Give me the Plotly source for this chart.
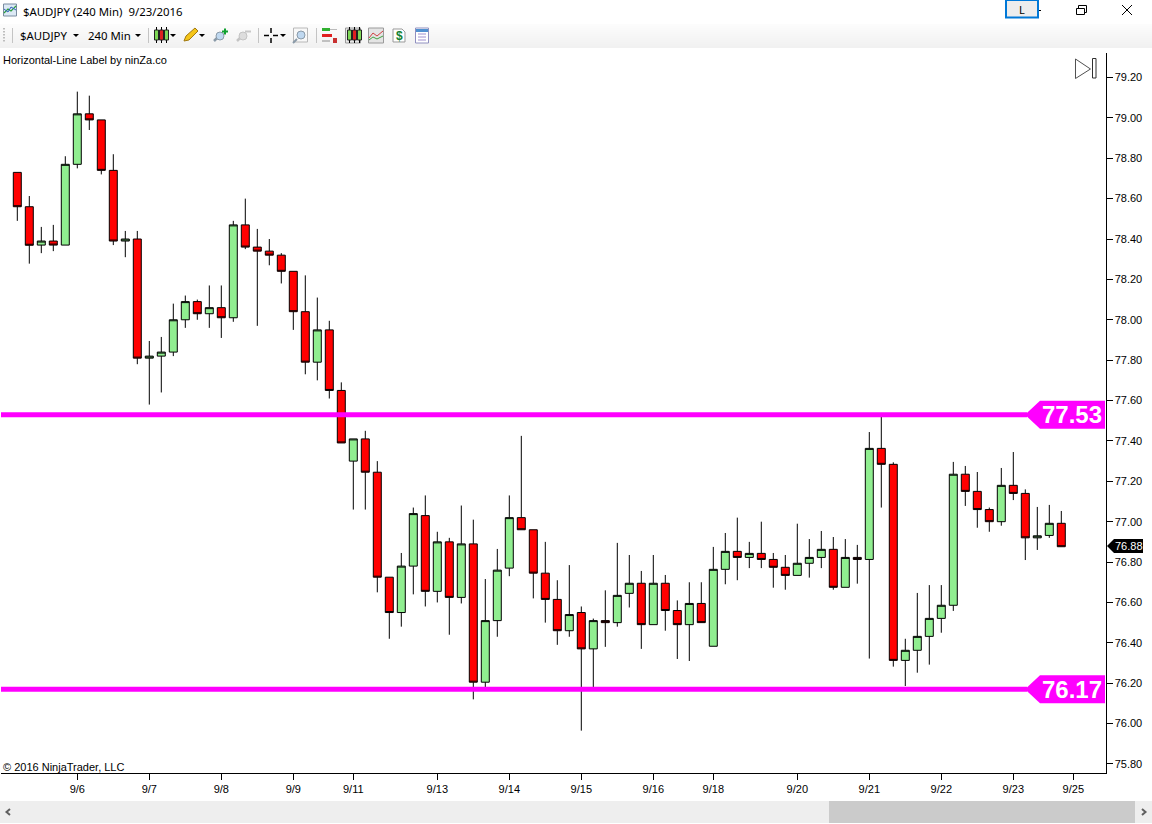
import plotly.graph_objects as go

W, H = 1152, 824

# ---- data ----
opens = [78.73,78.56,78.37,78.39,78.37,78.77,79.02,78.99,78.74,78.39,78.40,77.81,77.82,77.84,78.00,78.09,78.03,78.06,78.01,78.47,
         78.36,78.34,78.32,78.24,78.04,77.79,77.95,77.65,77.30,77.41,77.245,76.725,76.55,76.78,77.03,76.655,76.90,76.625,76.89,76.205,
         76.51,76.77,77.02,76.96,76.745,76.615,76.46,76.55,76.37,76.51,76.50,76.645,76.695,76.49,76.695,76.56,76.49,76.595,76.383,76.764,
         76.853,76.823,76.843,76.813,76.774,76.734,76.794,76.823,76.863,76.675,76.823,76.813,77.363,77.284,76.313,76.363,76.432,76.521,76.586,77.235,
         77.15,77.06,77.00,77.18,77.14,76.92,76.932,76.992]
highs = [78.73,78.613,78.46,78.47,78.81,79.13,79.11,78.99,78.82,78.44,78.44,77.895,77.915,78.08,78.12,78.10,78.17,78.17,78.49,78.60,
         78.45,78.40,78.33,78.24,78.22,78.11,77.995,77.69,77.41,77.45,77.30,76.725,76.845,77.07,77.13,76.95,76.92,77.08,77.01,76.716,
         76.865,77.13,77.425,76.96,76.90,76.71,76.785,76.58,76.52,76.66,76.895,76.835,76.756,76.835,76.736,76.61,76.70,76.70,76.875,76.944,
         77.02,76.90,77.00,76.845,76.835,76.99,76.914,76.954,76.924,76.914,76.885,77.444,77.52,77.294,76.42,76.647,76.686,76.686,77.296,77.276,
         77.246,77.07,77.266,77.345,77.16,77.073,77.083,77.053]
lows = [78.49,78.278,78.33,78.34,78.37,78.75,78.94,78.72,78.37,78.31,77.78,77.58,77.64,77.82,77.96,78.00,77.96,77.91,77.99,78.35,
        77.97,78.27,78.18,77.95,77.73,77.70,77.61,77.39,77.06,77.06,76.65,76.42,76.48,76.64,76.58,76.60,76.44,76.595,76.12,76.18,
        76.43,76.73,76.96,76.62,76.50,76.39,76.43,75.965,76.18,76.38,76.48,76.575,76.37,76.49,76.46,76.32,76.31,76.50,76.383,76.69,
        76.71,76.77,76.77,76.673,76.663,76.734,76.723,76.77,76.663,76.675,76.693,76.322,77.07,76.282,76.186,76.252,76.292,76.45,76.558,77.078,
        76.97,76.95,76.98,77.107,76.81,76.86,76.92,76.876]
closes = [78.56,78.369,78.39,78.37,78.77,79.02,78.99,78.74,78.39,78.40,77.81,77.82,77.84,78.00,78.09,78.03,78.06,78.01,78.47,78.36,
          78.34,78.32,78.24,78.04,77.79,77.95,77.65,77.39,77.41,77.245,76.725,76.55,76.78,77.04,76.655,76.90,76.625,76.89,76.205,76.51,
          76.76,77.02,76.96,76.745,76.615,76.46,76.54,76.37,76.51,76.50,76.635,76.695,76.49,76.695,76.56,76.49,76.595,76.50,76.764,76.853,
          76.823,76.843,76.813,76.774,76.734,76.794,76.823,76.863,76.675,76.823,76.813,77.363,77.284,76.313,76.363,76.432,76.521,76.586,77.235,77.15,
          77.06,77.00,77.18,77.14,76.92,76.93,76.992,76.876]
bar_index = list(range(len(closes)))

date_tick_index = [5, 11, 17, 23, 28, 35, 41, 47, 53, 58, 65, 71, 77, 83, 88]
date_tick_labels = ["9/6","9/7","9/8","9/9","9/11","9/13","9/14","9/15","9/16","9/18","9/20","9/21","9/22","9/23","9/25"]
price_ticks = [75.8,76.0,76.2,76.4,76.6,76.8,77.0,77.2,77.4,77.6,77.8,78.0,78.2,78.4,78.6,78.8,79.0,79.2]
levels = [77.53, 76.17]
last_price = 76.88

# ---- layout helpers (pixel -> paper) ----
PL, PR, PT, PB = 1.0, 1105.5, 53.0, 773.0
MAG = "#FF00FF"
FONT = "Liberation Sans"
UI = "Noto Sans"

def fx(x): return x / W
def fy(y): return 1 - y / H
def vpx(v): return 77.5 + (79.20 - v) * 201.9

shapes, notes = [], []

def rect(x0, y0, x1, y1, fill="rgba(0,0,0,0)", line=None, lw=1):
    shapes.append(dict(type="rect", xref="paper", yref="paper", x0=fx(x0), x1=fx(x1), y0=fy(y1), y1=fy(y0),
                       fillcolor=fill, line=dict(color=line or "rgba(0,0,0,0)", width=lw if line else 0), layer="above"))

def poly(pts, fill="rgba(0,0,0,0)", line=None, lw=1, close=True):
    d = "M" + " L".join(f"{fx(x):.5f},{fy(y):.5f}" for x, y in pts) + (" Z" if close else "")
    shapes.append(dict(type="path", xref="paper", yref="paper", path=d, fillcolor=fill,
                       line=dict(color=line or "rgba(0,0,0,0)", width=lw if line else 0), layer="above"))

def seg(x0, y0, x1, y1, color="#000", lw=1):
    shapes.append(dict(type="line", xref="paper", yref="paper", x0=fx(x0), x1=fx(x1), y0=fy(y0), y1=fy(y1),
                       line=dict(color=color, width=lw), layer="above"))

def text(x, y, s, size=11, color="#000", anchor="left", family=FONT, bold=False):
    notes.append(dict(xref="paper", yref="paper", x=fx(x), y=fy(y), text=f"<b>{s}</b>" if bold else s,
                      showarrow=False, xanchor=anchor, yanchor="middle", xshift=0, yshift=0,
                      font=dict(size=size, color=color, family=family)))

# toolbar band
for i in range(12):
    g = 252 - i
    rect(0, 24 + i * 2, W, 26 + i * 2, fill=f"rgb({g},{g},{g})")

# window icon + title
rect(3.5, 4, 16.5, 16, fill="#DCE9F5", line="#7A8CA0")
poly([(4, 13), (8, 9), (11, 11), (16, 6)], line="#2E9E3E", lw=1.2, close=False)
poly([(4, 9), (8, 12), (11, 7), (16, 10)], line="#3060C0", lw=1, close=False)
text(21, 11.5, "$AUDJPY (240 Min)  9/23/2016", size=11.4, family=UI)

# toolbar items
for yy in (28, 31, 34, 37, 40):
    rect(3, yy, 5, yy + 1.5, fill="#BDBDBD")
for sx in (12.5, 148.5, 258.5, 316.5):
    seg(sx, 28, sx, 43, "#C4C4C4")
text(18, 35, "$AUDJPY", size=11.4, family=UI)
text(86, 35, "240 Min", size=11.4, family=UI)
for tx in (76, 138, 173, 202, 283):
    poly([(tx - 3, 34), (tx + 3, 34), (tx, 37)], fill="#000")

def mini_candles(x, colors):
    for k, c in enumerate(colors):
        seg(x + 2 + k * 5, 27, x + 2 + k * 5, 43, "#000")
        rect(x + k * 5, 30, x + 4 + k * 5, 40, fill=c, line="#222")

mini_candles(154.5, ["#7ED957", "#E02020", "#7ED957"])
poly([(184, 41), (186, 36), (195, 28), (198, 31), (189, 40)], fill="#F5C518", line="#A07810")
for cx, col, rim in ((218, "#BFD8F0", "#8A9AA8"), (241, "#DDDDDD", "#C4C4C4")):
    seg(cx - 4, 41, cx - 1, 38, rim, 2.5)
    shapes.append(dict(type="circle", xref="paper", yref="paper", x0=fx(cx - 2), x1=fx(cx + 6), y0=fy(40), y1=fy(32),
                       fillcolor=col, line=dict(color=rim, width=1), layer="above"))
seg(222, 31.5, 228, 31.5, "#10A030", 2); seg(225, 28.5, 225, 34.5, "#10A030", 2)
seg(245, 31.5, 251, 31.5, "#C8C8C8", 2)
for a, b, c, d in ((264, 35.5, 269, 35.5), (273, 35.5, 278, 35.5), (271, 28, 271, 33), (271, 38, 271, 43)):
    seg(a, b, c, d, "#000", 1.5)
rect(293.5, 28, 307.5, 42, fill="#F8F8F8", line="#B8B8B8")
shapes.append(dict(type="circle", xref="paper", yref="paper", x0=fx(297), x1=fx(305), y0=fy(39), y1=fy(31),
                   fillcolor="#BFD8F0", line=dict(color="#8A9AA8", width=1), layer="above"))
seg(293, 43, 297, 39, "#8A9AA8", 2)
# indicator / strategy icons
rect(322, 28, 330, 31, fill="#30B030"); rect(330, 29, 337, 30, fill="#BBBBBB")
rect(322, 34, 332, 37, fill="#E02020"); rect(322, 40, 330, 42, fill="#C0C0C0"); rect(333, 38, 337, 43, fill="#C83030")
rect(345.5, 28, 360.5, 43, fill="#E8E8E8", line="#9A9A9A")
mini_candles(347.5, ["#7ED957", "#E02020", "#7ED957"])
rect(368.5, 28, 383.5, 43, fill="#E4E4E4", line="#9A9A9A")
poly([(369, 38), (373, 33), (377, 36), (383, 31)], line="#D04040", close=False)
poly([(369, 40), (373, 37), (377, 39), (383, 36)], line="#40A040", close=False)
poly([(393, 29), (402, 29), (405, 32), (405, 42), (393, 42)], fill="#FFFFFF", line="#9A9A9A")
text(399, 36, "$", size=12, color="#108030", anchor="center", bold=True)
rect(415.5, 28, 428.5, 43, fill="#FFFFFF", line="#9090C0")
rect(416, 29, 428, 32, fill="#5090D0")
for yy in (34, 37, 40):
    seg(418, yy, 426, yy, "#A090D0")

# window controls
rect(1006, 0, 1038, 17.5, fill="#EDEDED", line="#0078D7", lw=2)
text(1022, 9, "L", size=11, anchor="center", family=UI)
seg(1039, 10.5, 1041, 10.5, "#000")
rect(1076.5, 8.5, 1084.5, 14.5, fill="#FFF", line="#000")
poly([(1078.5, 8), (1078.5, 5.5), (1086.5, 5.5), (1086.5, 12.5), (1085, 12.5)], line="#000", close=False)
seg(1122, 5, 1132, 15, "#000"); seg(1132, 5, 1122, 15, "#000")

# chart corner texts
text(1, 60, "Horizontal-Line Label by ninZa.co", size=11)
text(1, 767, "© 2016 NinjaTrader, LLC", size=11)
poly([(1075.5, 59), (1090.5, 69), (1075.5, 78.5)], fill="#FFF", line="#505050")
rect(1092.5, 58.5, 1096, 78, fill="#FFF", line="#303030")

# scrollbar
rect(0, 801, W, 823, fill="#EEEEEE")
rect(829, 801, 1135, 823, fill="#CBCBCB")
poly([(10, 809), (6.5, 812), (10, 815)], line="#606060", lw=2, close=False)
poly([(1142, 809), (1145.5, 812), (1142, 815)], line="#606060", lw=2, close=False)

# horizontal levels and their flags
for lv in levels:
    shapes.append(dict(type="line", xref="paper", yref="y", x0=fx(PL), x1=fx(1027), y0=lv, y1=lv,
                       line=dict(color=MAG, width=5), layer="above"))
    c = vpx(lv)
    poly([(1025, c), (1040, c - 14), (1105, c - 14), (1105, c + 14), (1040, c + 14)], fill=MAG)
    notes.append(dict(xref="paper", yref="y", x=fx(1071.5), y=lv, text=f"<b>{lv:.2f}</b>", showarrow=False,
                      xanchor="center", yanchor="middle", yshift=0,
                      font=dict(size=24, color="#FFFFFF", family=FONT)))

# last price flag
c = vpx(last_price)
poly([(1107, c), (1114, c - 7), (1143, c - 7), (1143, c + 7), (1114, c + 7)], fill="#000")
notes.append(dict(xref="paper", yref="y", x=fx(1112.5), y=last_price, text=f"{last_price:.2f}", showarrow=False,
                  xanchor="left", yanchor="middle", font=dict(size=11, color="#FFFFFF", family=FONT)))

fig = go.Figure(go.Candlestick(
    x=bar_index, open=opens, high=highs, low=lows, close=closes,
    increasing=dict(fillcolor="#90EE90", line=dict(color="#000", width=1)),
    decreasing=dict(fillcolor="#FF0000", line=dict(color="#000", width=1)),
    whiskerwidth=0, hoverinfo="skip", showlegend=False))

fig.update_layout(
    width=W, height=H, autosize=False, margin=dict(l=0, r=0, t=0, b=0, pad=0),
    paper_bgcolor="#FFFFFF", plot_bgcolor="#FFFFFF", showlegend=False,
    font=dict(family=FONT, size=11, color="#000"), boxgap=0.05,
    shapes=shapes, annotations=notes,
    xaxis=dict(domain=[fx(PL), fx(PR)], range=[(PL - 17.3) / 12, (PR - 17.3) / 12], rangeslider=dict(visible=False),
               tickmode="array", tickvals=date_tick_index, ticktext=date_tick_labels, ticks="outside", ticklen=6,
               tickwidth=1, tickcolor="#000", showgrid=False, zeroline=False, showline=True, linecolor="#000",
               linewidth=1, anchor="y", tickfont=dict(size=11, family=FONT, color="#000")),
    yaxis=dict(domain=[fy(PB), fy(PT)], range=[79.20 - (PB - 77.5) / 201.9, 79.20 - (PT - 77.5) / 201.9], side="right",
               tickmode="array", tickvals=price_ticks, ticktext=[f"{t:.2f}" for t in price_ticks], ticks="outside", ticklen=6,
               tickwidth=1, tickcolor="#000", showgrid=False, zeroline=False, showline=True, linecolor="#000",
               linewidth=1, anchor="x", tickfont=dict(size=11, family=FONT, color="#000")),
)

fig.write_html("out.html", config=dict(displayModeBar=False),
               post_script="document.body.style.margin='0';document.body.style.overflow='hidden';")
